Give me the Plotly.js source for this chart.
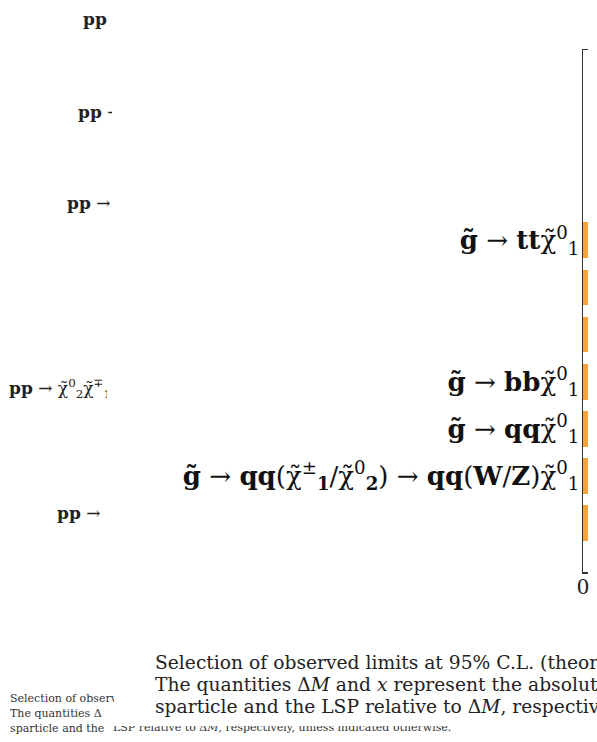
<!DOCTYPE html>
<html>
<head>
<meta charset="utf-8">
<script src="https://cdn.plot.ly/plotly-3.0.1.min.js"></script>
<style>
  html, body { margin: 0; padding: 0; background: #fff; overflow: hidden; }
  #chart { width: 597px; height: 742px; }
</style>
</head>
<body>
<div id="chart"></div>
<script>
// Gluino decay models, top to bottom (unlabelled rows are drawn without text)
const T = '\u0303';               // combining tilde
const CHI = 'χ' + T;
const modelLabels = [
  '<b>g' + T + '</b> → <b>tt</b>' + CHI + '<sup>0</sup><sub>1</sub>',
  '',
  '',
  '<b>g' + T + '</b> → <b>bb</b>' + CHI + '<sup>0</sup><sub>1</sub>',
  '<b>g' + T + '</b> → <b>qq</b>' + CHI + '<sup>0</sup><sub>1</sub>',
  '<b>g' + T + '</b> → <b>qq</b>(' + CHI + '<sup>±</sup><sub><b>1</b></sub>/' + CHI +
    '<sup>0</sup><sub><b>2</b></sub>) → <b>qq</b>(<b>W</b>/<b>Z</b>)' + CHI + '<sup>0</sup><sub>1</sub>',
  ''
];
// Observed mass limits (GeV)
const massLimits = [2250, 2150, 2100, 2200, 2050, 2100, 2000];

// x-axis tick
const xTickVals = [0];
const xTickText = ['0'];

// Production-process fragments in the left margin
const sideTexts = [
  '<b>pp</b>',
  '<b>pp</b> →',
  '<b>pp</b> →',
  '<b>pp</b> → ' + CHI + '<sup>0</sup><sub>2</sub>' + CHI + '<sup>∓</sup><sub>1</sub> →',
  '<b>pp</b> →'
];

// Caption lines
const captionLines = [
  'Selection of observed limits at 95% C.L. (theory uncertainties are not included).',
  'The quantities Δ<i>M</i> and <i>x</i> represent the absolute mass difference between',
  'sparticle and the LSP relative to Δ<i>M</i>, respectively, unless indicated otherwise.'
];
// small-print copy: the last line is split where it runs under the caption panel
const smallLines = [
  captionLines[0],
  captionLines[1],
  'sparticle and the',
  'LSP relative to Δ<i>M</i>, respectively, unless indicated otherwise.'
];

// ---- geometry (pixels) ----
const L = 583, R = 588, TOP = 50, BOT = 572;
const px = x => (x - L) / (R - L);
const py = y => (BOT - y) / (BOT - TOP);

const sidePlace = [
  {x: 82, y: 19, w: 27},
  {x: 77, y: 112, w: 34},
  {x: 66, y: 203, w: 47},
  {x: 8,  y: 389, w: 98},
  {x: 56, y: 513, w: 51}
];

const annotations = [];
sideTexts.forEach((t, i) => {
  const p = sidePlace[i];
  annotations.push({
    xref: 'paper', yref: 'paper', x: px(p.x), y: py(p.y),
    xanchor: 'left', yanchor: 'middle', showarrow: false,
    text: t, width: p.w, align: 'left', borderpad: 0,
    font: {family: 'DejaVu Serif', size: 17, color: '#222'}
  });
});

const smallPlace = [
  {x: 9,   y: 698, w: 104, h: null},
  {x: 9,   y: 713, w: 92,  h: null},
  {x: 9,   y: 728, w: 104, h: null},
  {x: 112, y: 735.5, w: null, h: 8}
];
smallLines.forEach((t, i) => {
  const p = smallPlace[i];
  const a = {
    xref: 'paper', yref: 'paper', x: px(p.x), y: py(p.y),
    xanchor: 'left', yanchor: 'middle', showarrow: false,
    text: t, align: 'left', borderpad: 0,
    font: {family: 'DejaVu Serif', size: 11, color: '#333'}
  };
  if (p.w) a.width = p.w;
  if (p.h) { a.height = p.h; a.valign = 'bottom'; a.yanchor = 'bottom'; }
  annotations.push(a);
});

const captionY = [662, 684, 706];
captionLines.forEach((t, i) => {
  annotations.push({
    xref: 'paper', yref: 'paper', x: px(154), y: py(captionY[i]),
    xanchor: 'left', yanchor: 'middle', showarrow: false,
    text: t, align: 'left', borderpad: 0,
    font: {family: 'DejaVu Serif', size: 18.7, color: '#222'}
  });
});

const trace = {
  type: 'bar',
  orientation: 'h',
  x: massLimits,
  y: massLimits.map((_, i) => i),
  width: 0.76,
  marker: {color: '#f6a23b', line: {width: 0}},
  hoverinfo: 'skip'
};

// only rows that carry a label get a tick
const labelledRows = modelLabels.map((t, i) => t ? i : -1).filter(i => i >= 0);

const layout = {
  width: 597, height: 742,
  margin: {l: L, r: 597 - R, t: TOP, b: 742 - BOT, pad: 0},
  paper_bgcolor: '#ffffff', plot_bgcolor: '#ffffff',
  showlegend: false,
  bargap: 0,
  xaxis: {
    range: [0, 2000],
    tickmode: 'array', tickvals: xTickVals, ticktext: xTickText,
    showgrid: false, zeroline: false,
    showline: true, mirror: true, linecolor: '#333', linewidth: 1.5,
    ticks: '', ticklabelstandoff: -8,
    tickfont: {family: 'Liberation Serif', size: 24, color: '#222'}
  },
  yaxis: {
    range: [7.04, -4.04],
    tickmode: 'array',
    tickvals: labelledRows,
    ticktext: labelledRows.map(i => modelLabels[i]),
    showgrid: false, zeroline: false,
    showline: true, mirror: false, linecolor: '#333', linewidth: 1.5,
    ticks: '', ticklabelstandoff: -3,
    tickfont: {family: 'DejaVu Serif', size: 26, color: '#111'}
  },
  annotations: annotations
};

Plotly.newPlot('chart', [trace], layout, {displayModeBar: false, staticPlot: true});
</script>
</body>
</html>
